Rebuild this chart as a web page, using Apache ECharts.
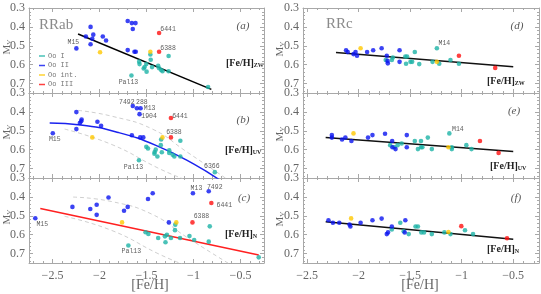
<!DOCTYPE html>
<html><head><meta charset="utf-8">
<script src="https://cdn.jsdelivr.net/npm/echarts@6/dist/echarts.min.js"></script>
<style>html,body{margin:0;padding:0;background:#fff}#c{width:541px;height:294px}</style>
</head><body><div id="c"></div>
<script>
// ---------- tick labels ----------
const xTickLabels = [-2.5, -2, -1.5, -1, -0.5];
const yTickLabels = [0.3, 0.4, 0.5, 0.6, 0.7];

// ---------- panel (a) RRab, [Fe/H]ZW ----------
const a_OoI = [[-1.459,0.546],[-1.455,0.574],[-1.265,0.554],[-1.578,0.584],[-1.574,0.597],[-1.502,0.597],[-1.52,0.613],[-1.53,0.62],[-1.499,0.637],[-1.441,0.613],[-1.376,0.606],[-1.366,0.619],[-1.344,0.628],[-1.33,0.635],[-1.265,0.635],[-1.66,0.657,'Pal13'],[-0.845,0.718]];
const a_OoII = [[-2.246,0.514,'M15'],[-2.145,0.451],[-2.095,0.400],[-2.095,0.492],[-2.077,0.463],[-2.066,0.441],[-1.965,0.451],[-1.930,0.472],[-1.700,0.369],[-1.656,0.380],[-1.617,0.380],[-1.646,0.411],[-1.700,0.523],[-1.628,0.532],[-1.614,0.532]];
const a_OoInt = [[-1.994,0.534],[-1.459,0.532]];
const a_OoIII = [[-1.366,0.432,'6441'],[-1.366,0.532,'6388']];
const a_fit = [[-2.228,0.438],[-0.81,0.731]];

// ---------- panel (b) RRab, [Fe/H]UV ----------
const b_OoI = [[-1.58,0.656,'Pal13'],[-1.344,0.546],[-1.348,0.576],[-1.14,0.553],[-1.502,0.585],[-1.484,0.594],[-1.402,0.600],[-1.413,0.613],[-1.416,0.621],[-1.384,0.636],[-1.337,0.614],[-1.258,0.604],[-1.258,0.618],[-1.222,0.627],[-1.204,0.636],[-1.14,0.636],[-0.773,0.719,'6366']];
const b_OoII = [[-2.497,0.513,'M15'],[-2.246,0.401],[-2.246,0.491],[-2.209,0.459],[-2.195,0.45],[-2.19,0.44],[-2.022,0.452],[-1.983,0.474],[-1.656,0.524],[-1.646,0.369,'7492'],[-1.602,0.381,'288'],[-1.563,0.381,'M13'],[-1.574,0.412,'1904'],[-1.567,0.535],[-1.534,0.535]];
const b_OoInt = [[-2.077,0.535],[-1.33,0.535]];
const b_OoIII = [[-1.24,0.432,'6441'],[-1.24,0.535,'6388']];
const b_fit = [[-2.53,0.459],[-2.2,0.469],[-1.8,0.509],[-1.4,0.577],[-1.0,0.675],[-0.7,0.768]];
const b_bandUpper = [[-2.228,0.392],[-1.868,0.423],[-1.437,0.491],[-1.079,0.609],[-0.649,0.754]];
const b_bandLower = [[-2.371,0.491],[-1.868,0.573],[-1.366,0.70],[-1.114,0.754]];

// ---------- panel (c) RRab, [Fe/H]N ----------
const c_OoI = [[-1.693,0.657,'Pal13'],[-1.51,0.587],[-1.48,0.596],[-1.376,0.618],[-1.304,0.609],[-1.283,0.601],[-1.298,0.640],[-1.240,0.618],[-1.197,0.576],[-1.194,0.547],[-1.143,0.618],[-1.043,0.607],[-0.993,0.628],[-0.827,0.556],[-0.838,0.637],[-0.306,0.720]];
const c_OoII = [[-2.683,0.513,'M15'],[-2.288,0.453],[-2.098,0.464],[-2.03,0.442],[-2.03,0.495],[-1.904,0.403],[-1.739,0.473],[-1.70,0.453],[-1.484,0.411],[-1.434,0.381],[-1.262,0.535],[-1.006,0.381,'M13'],[-0.838,0.370,'7492']];
const c_OoInt = [[-1.76,0.535],[-1.183,0.535]];
const c_OoIII = [[-0.81,0.432,'6441'],[-1.011,0.535,'6388']];
const c_fit = [[-2.63,0.461],[-0.306,0.708]];
const c_bandUpper = [[-2.281,0.401],[-1.868,0.425],[-1.437,0.493],[-1.079,0.611],[-0.612,0.757]];
const c_bandLower = [[-2.371,0.503],[-1.868,0.578],[-1.366,0.703],[-1.114,0.757]];

// ---------- panel (d) RRc, [Fe/H]ZW ----------
const d_OoI = [[-1.737,0.575],[-1.678,0.575],[-1.668,0.562],[-1.547,0.557],[-1.530,0.557],[-1.54,0.595],[-1.497,0.585],[-1.481,0.585],[-1.455,0.533],[-1.412,0.597],[-1.283,0.585],[-1.241,0.513,'M14'],[-1.218,0.595],[-1.109,0.575],[-1.027,0.595]];
const d_OoII = [[-2.122,0.524],[-2.106,0.533],[-2.05,0.544],[-2.03,0.533],[-2.016,0.553],[-1.918,0.533],[-1.859,0.524],[-1.777,0.513],[-1.727,0.553],[-1.72,0.58],[-1.717,0.593],[-1.603,0.524],[-1.603,0.585]];
const d_OoInt = [[-1.981,0.513],[-1.241,0.585]];
const d_OoIII = [[-1.027,0.553],[-0.675,0.617]];
const d_fit = [[-2.22,0.535],[-0.5,0.611]];

// ---------- panel (e) RRc, [Fe/H]UV ----------
const e_OoI = [[-1.694,0.576],[-1.655,0.587],[-1.622,0.576],[-1.583,0.567],[-1.455,0.554],[-1.425,0.597],[-1.395,0.587],[-1.395,0.554],[-1.382,0.587],[-1.329,0.536],[-1.29,0.597],[-1.12,0.514,'M14'],[-1.096,0.587],[-1.096,0.597],[-0.955,0.576],[-0.905,0.597]];
const e_OoII = [[-2.26,0.523],[-2.26,0.536],[-2.161,0.546],[-2.129,0.536],[-2.07,0.554],[-1.909,0.536],[-1.866,0.523],[-1.744,0.516],[-1.675,0.554],[-1.672,0.587],[-1.642,0.597],[-1.533,0.523],[-1.533,0.587]];
const e_OoInt = [[-2.05,0.514],[-1.129,0.587]];
const e_OoIII = [[-0.823,0.554],[-0.642,0.617]];
const e_fit = [[-2.32,0.536],[-0.5,0.610]];

// ---------- panel (f) RRc, [Fe/H]N ----------
const f_OoI = [[-1.678,0.573],[-1.596,0.537],[-1.563,0.582],[-1.514,0.597],[-1.448,0.557],[-1.425,0.557],[-1.392,0.588],[-1.366,0.588],[-1.29,0.597],[-1.168,0.588],[-1.109,0.597],[-0.968,0.577],[-0.89,0.597]];
const f_OoII = [[-2.293,0.524],[-2.25,0.537],[-2.188,0.537],[-2.089,0.546],[-2.08,0.557],[-1.981,0.537],[-1.866,0.524],[-1.777,0.515],[-1.678,0.557],[-1.727,0.597],[-1.715,0.588],[-1.547,0.524],[-1.553,0.588]];
const f_OoInt = [[-2.073,0.514],[-1.129,0.586]];
const f_OoIII = [[-1.004,0.555],[-0.56,0.619]];
const f_fit = [[-2.32,0.531],[-0.5,0.624]];

// ---------- styling / layout (not data) ----------
const serif = "'Liberation Serif','DejaVu Serif',serif";
const mono = "'Liberation Mono','DejaVu Sans Mono',monospace";
const COL = {I:'#1db3a6', II:'#0a14f0', int:'#ffc800', III:'#ff1010'};
const AX = '#a8a8a8';
const LBL = '#666';

const labelOffsets = {
  a:{'M15':[-3,-6],'6441':[9,-4],'6388':[9,-4],'Pal13':[-3,6.5]},
  b:{'7492':[-6,-3.5],'288':[5,-6],'M13':[9,0],'1904':[9.5,2],'6441':[9,-1.5],'6388':[3,-5.5],'M15':[2,6.5],'Pal13':[-5.5,7],'6366':[-3,-5.5]},
  c:{'M15':[7,6.3],'M13':[3.5,-5.5],'7492':[6,-3.5],'6441':[13,2],'6388':[9,-6],'Pal13':[3,5.5]},
  d:{'M14':[7.5,-5]},
  e:{'M14':[8.5,-4]}
};

function range(a,b,s){const r=[];for(let v=a;v<=b+1e-9;v+=s)r.push(+v.toFixed(3));return r;}

const panels = [
  {id:'a', grid:{left:29,top:8,width:235,height:85}, xr:[-2.75,-0.25], I:a_OoI, II:a_OoII, int:a_OoInt, III:a_OoIII, fit:a_fit, fitColor:'#000', smooth:false, bottom:false},
  {id:'b', grid:{left:29,top:93,width:235,height:85}, xr:[-2.75,-0.25], I:b_OoI, II:b_OoII, int:b_OoInt, III:b_OoIII, fit:b_fit, fitColor:'#1a22ee', smooth:true, bands:[b_bandUpper,b_bandLower], bottom:false},
  {id:'c', grid:{left:29,top:178,width:235,height:85}, xr:[-2.75,-0.25], I:c_OoI, II:c_OoII, int:c_OoInt, III:c_OoIII, fit:c_fit, fitColor:'#ff2020', smooth:false, bands:[c_bandUpper,c_bandLower], bottom:true},
  {id:'d', grid:{left:303,top:8,width:236,height:85}, xr:[-2.54,-0.25], I:d_OoI, II:d_OoII, int:d_OoInt, III:d_OoIII, fit:d_fit, fitColor:'#111', smooth:false, bottom:false},
  {id:'e', grid:{left:303,top:93,width:236,height:85}, xr:[-2.54,-0.25], I:e_OoI, II:e_OoII, int:e_OoInt, III:e_OoIII, fit:e_fit, fitColor:'#111', smooth:false, bottom:false},
  {id:'f', grid:{left:303,top:178,width:236,height:85}, xr:[-2.54,-0.25], I:f_OoI, II:f_OoII, int:f_OoInt, III:f_OoIII, fit:f_fit, fitColor:'#111', smooth:false, bottom:true}
];

const grids=[], xAxes=[], yAxes=[], series=[];
const fmtX = v => (v<0?'\u2212':'') + Math.abs(v);
const yMinor = range(0.3,0.74,0.02);

panels.forEach((p,gi)=>{
  grids.push(Object.assign({containLabel:false, outerBoundsMode:'none'}, p.grid));
  const xMinor = range(Math.ceil(p.xr[0]*10)/10, p.xr[1], 0.1).filter(v=>v>p.xr[0]&&v<p.xr[1]);
  const baseX = {type:'value', gridIndex:gi, min:p.xr[0], max:p.xr[1], splitLine:{show:false}};
  const xi = xAxes.length;
  xAxes.push(Object.assign({}, baseX, {
    position:'bottom',
    axisLine:{show:true, onZero:false, lineStyle:{color:AX,width:1}},
    axisTick:{show:true, inside:true, length:4, customValues:xTickLabels, lineStyle:{color:AX}},
    axisLabel:{show:p.bottom, customValues:xTickLabels, formatter:fmtX, fontFamily:serif, fontSize:12, color:LBL, margin:7}
  }));
  xAxes.push(Object.assign({}, baseX, {position:'bottom', axisLine:{show:false,onZero:false},
    axisTick:{show:true, inside:true, length:2, customValues:xMinor, lineStyle:{color:AX}}, axisLabel:{show:false}}));
  xAxes.push(Object.assign({}, baseX, {position:'top', axisLine:{show:true,onZero:false,lineStyle:{color:AX,width:1}},
    axisTick:{show:true, inside:true, length:4, customValues:xTickLabels, lineStyle:{color:AX}}, axisLabel:{show:false}}));
  xAxes.push(Object.assign({}, baseX, {position:'top', axisLine:{show:false,onZero:false},
    axisTick:{show:true, inside:true, length:2, customValues:xMinor, lineStyle:{color:AX}}, axisLabel:{show:false}}));

  const baseY = {type:'value', gridIndex:gi, min:0.3, max:0.75, inverse:true, splitLine:{show:false}};
  const yi = yAxes.length;
  yAxes.push(Object.assign({}, baseY, {
    position:'left',
    axisLine:{show:true,onZero:false,lineStyle:{color:AX,width:1}},
    axisTick:{show:true, inside:true, length:4, customValues:yTickLabels, lineStyle:{color:AX}},
    axisLabel:{show:true, customValues:yTickLabels, formatter:v=>v.toFixed(1), fontFamily:serif, fontSize:12, color:LBL, margin:4}
  }));
  yAxes.push(Object.assign({}, baseY, {position:'left', axisLine:{show:false,onZero:false},
    axisTick:{show:true, inside:true, length:2, customValues:yMinor, lineStyle:{color:AX}}, axisLabel:{show:false}}));
  yAxes.push(Object.assign({}, baseY, {position:'right', axisLine:{show:true,onZero:false,lineStyle:{color:AX,width:1}},
    axisTick:{show:true, inside:true, length:4, customValues:yTickLabels, lineStyle:{color:AX}}, axisLabel:{show:false}}));
  yAxes.push(Object.assign({}, baseY, {position:'right', axisLine:{show:false,onZero:false},
    axisTick:{show:true, inside:true, length:2, customValues:yMinor, lineStyle:{color:AX}}, axisLabel:{show:false}}));

  (p.bands||[]).forEach(b=>{
    series.push({type:'line', xAxisIndex:xi, yAxisIndex:yi, data:b, smooth:true, showSymbol:false, silent:true,
      lineStyle:{color:'#cfcfcf', width:1, type:[4,3]}, z:1});
  });
  series.push({type:'line', xAxisIndex:xi, yAxisIndex:yi, data:p.fit, smooth:p.smooth, showSymbol:false, silent:true,
    lineStyle:{color:p.fitColor, width:1.5}, z:2});

  const offs = labelOffsets[p.id]||{};
  [['I','Oo I'],['II','Oo II'],['int','Oo int.'],['III','Oo III']].forEach(([k,name])=>{
    series.push({type:'scatter', name, xAxisIndex:xi, yAxisIndex:yi, symbolSize:4.6, z:3,
      itemStyle:{color:COL[k]},
      data:p[k].map(pt=>{
        const it={value:[pt[0],pt[1]]};
        if(pt[2]){ it.label={show:true, formatter:pt[2], position:'inside', offset:offs[pt[2]]||[0,-6],
          fontFamily:mono, fontSize:6.5, color:'#333'}; }
        return it;
      })
    });
  });
});

function gText(x,y,text,opt,extra){return Object.assign({type:'text', x, y, silent:true, style:Object.assign({text, align:'left', verticalAlign:'middle', fill:'#555'},opt)}, extra||{});}
const feh = (sub)=>({text:'{a|[Fe/H]}{b|'+sub+'}', rich:{a:{fontFamily:serif,fontSize:10,fontWeight:'bold',fill:'#222'}, b:{fontFamily:serif,fontSize:6,fontWeight:'bold',fill:'#222',padding:[5,0,0,0]}}});
const mv = ()=>({text:'{m|M}{v|V}', align:'center', rich:{m:{fontFamily:serif,fontSize:11,fill:LBL}, v:{fontFamily:serif,fontSize:7,fill:LBL,padding:[5,0,0,0]}}});

const graphics = [
  gText(39,25,'RRab',{fontFamily:serif,fontSize:15,fill:'#8a8a8a'}),
  gText(326,24,'RRc',{fontFamily:serif,fontSize:15,fill:'#8a8a8a'}),
  gText(243,26,'(a)',{fontFamily:serif,fontSize:11,fontStyle:'italic',align:'center'}),
  gText(243,120,'(b)',{fontFamily:serif,fontSize:11,fontStyle:'italic',align:'center'}),
  gText(244,198,'(c)',{fontFamily:serif,fontSize:11,fontStyle:'italic',align:'center'}),
  gText(517,26,'(d)',{fontFamily:serif,fontSize:11,fontStyle:'italic',align:'center'}),
  gText(514,111,'(e)',{fontFamily:serif,fontSize:11,fontStyle:'italic',align:'center'}),
  gText(516,198,'(f)',{fontFamily:serif,fontSize:11,fontStyle:'italic',align:'center'}),
  gText(226,63,'',feh('ZW')),
  gText(225,150,'',feh('UV')),
  gText(225,234,'',feh('N')),
  gText(487,81,'',feh('ZW')),
  gText(490,166,'',feh('UV')),
  gText(487,249,'',feh('N')),
  gText(7,47,'',mv(),{rotation:Math.PI/2}),
  gText(7,132,'',mv(),{rotation:Math.PI/2}),
  gText(7,217,'',mv(),{rotation:Math.PI/2}),
  gText(280,49,'',mv(),{rotation:Math.PI/2}),
  gText(280,134,'',mv(),{rotation:Math.PI/2}),
  gText(280,219,'',mv(),{rotation:Math.PI/2}),
  gText(150,285,'[Fe/H]',{fontFamily:serif,fontSize:14,fill:LBL,align:'center'}),
  gText(420,285,'[Fe/H]',{fontFamily:serif,fontSize:14,fill:LBL,align:'center'})
];

const chart = echarts.init(document.getElementById('c'), null, {renderer:'canvas'});
chart.setOption({
  animation:false,
  backgroundColor:'#fff',
  grid:grids, xAxis:xAxes, yAxis:yAxes, series,
  legend:{orient:'vertical', left:34, top:47, itemWidth:6, itemHeight:1.5, itemGap:1.5, selectedMode:false,
    icon:'rect', data:['Oo I','Oo II','Oo int.','Oo III'],
    textStyle:{fontFamily:mono, fontSize:7, color:'#777', lineHeight:8, padding:[0,0,0,-2]}},
  graphic:graphics
});
</script></body></html>
